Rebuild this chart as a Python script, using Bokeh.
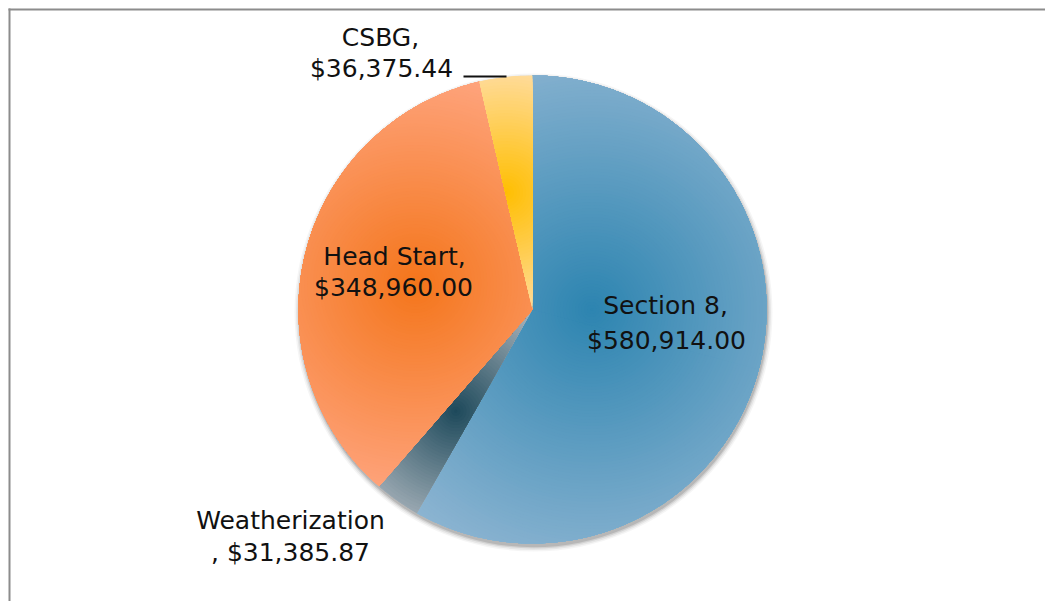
import numpy as np
from bokeh.plotting import figure
from bokeh.models import Range1d
from bokeh.embed import file_html
from bokeh.resources import INLINE
from bokeh.core.properties import value

# ---------------- data ----------------
categories = ["Section 8", "Weatherization", "Head Start", "CSBG"]
amounts = [580914.00, 31385.87, 348960.00, 36375.44]
# where the comma of "Name, $value" falls when wrapped
comma_on_second_line = [False, True, False, False]

# ---------------- style ----------------
dark_colors = [(44, 132, 176), (28, 72, 90), (244, 117, 26), (255, 190, 0)]
light_colors = [(148, 184, 212), (172, 182, 190), (255, 168, 134), (255, 219, 152)]

W, H = 1045, 601
cx, cy, R = 532, 292, 234
label_pos = [[(665, 296), (666, 261)],
             [(290, 81), (290, 49)],
             [(394, 345), (393, 314)],
             [(380, 564), (381, 533)]]
FONT = "DejaVu Sans"
FSIZE = "25px"

p = figure(width=W, height=H, x_range=Range1d(0, W), y_range=Range1d(0, H),
           x_axis_type=None, y_axis_type=None, output_backend="svg",
           toolbar_location=None, min_border=0)
p.outline_line_color = None
p.grid.visible = False
p.background_fill_color = "white"
p.border_fill_color = "white"

# chart-area border (left and top edges visible)
p.segment(x0=[9, 8], y0=[0, H - 9], x1=[9, W], y1=[H - 8, H - 9],
          line_color="#8c8c8c", line_width=2)

# soft shadow
for dr, a in [(5, 0.04), (3.5, 0.06), (2, 0.09), (0.8, 0.12)]:
    p.circle(x=[cx + 1], y=[cy - 3], radius=R + dr, fill_color="black",
             fill_alpha=a, line_color=None)

# ---------------- slices ----------------
total = float(sum(amounts))
cum = np.concatenate([[0.0], np.cumsum(amounts)]) / total * 2 * np.pi
start_angles = np.pi / 2 - cum[1:]
end_angles = np.pi / 2 - cum[:-1]


def hexc(c):
    return "#%02x%02x%02x" % tuple(int(round(v)) for v in c)


def sector_poly(a0, a1):
    n = max(3, int(np.ceil((a1 - a0) / np.deg2rad(1.0))) + 1)
    a = np.linspace(a0, a1, n)
    return [(cx, cy)] + [(cx + R * np.cos(t), cy + R * np.sin(t)) for t in a]


def clip(subject, clipper):
    """Sutherland-Hodgman: clip polygon 'subject' by convex CCW polygon 'clipper'."""
    out = subject
    n = len(clipper)
    for i in range(n):
        ax, ay = clipper[i - 1]
        bx, by = clipper[i]
        ex, ey = bx - ax, by - ay
        inp = out
        out = []
        if not inp:
            break
        sx, sy = inp[-1]
        s_in = ex * (sy - ay) - ey * (sx - ax) >= 0
        for (px_, py_) in inp:
            p_in = ex * (py_ - ay) - ey * (px_ - ax) >= 0
            if p_in != s_in:
                dx, dy = px_ - sx, py_ - sy
                den = ex * dy - ey * dx
                if den != 0:
                    u = (ey * (sx - ax) - ex * (sy - ay)) / den
                    out.append((sx + u * dx, sy + u * dy))
            if p_in:
                out.append((px_, py_))
            sx, sy, s_in = px_, py_, p_in
    return out


XS, YS, COLS = [], [], []
circ = np.linspace(0, 2 * np.pi, 97)[:-1]
for i in range(len(amounts)):
    a0, a1 = start_angles[i], end_angles[i]
    # split into convex pieces (<= 180 degrees)
    n_pieces = int(np.ceil((a1 - a0) / np.pi))
    edges = np.linspace(a0, a1, n_pieces + 1)
    pieces = [sector_poly(edges[k], edges[k + 1]) for k in range(n_pieces)]
    allpts = np.array(sector_poly(a0, a1))
    gx = (allpts[:, 0].min() + allpts[:, 0].max()) / 2
    gy = (allpts[:, 1].min() + allpts[:, 1].max()) / 2
    hd = np.hypot(np.ptp(allpts[:, 0]), np.ptp(allpts[:, 1])) / 2
    dk = np.array(dark_colors[i], float)
    lt = np.array(light_colors[i], float)
    levels = np.linspace(hd, 1.5, max(20, int(hd / 3)))
    for rho in levels:
        t = rho / hd
        col = hexc(dk + (lt - dk) * t)
        disk = [(gx + rho * np.cos(a), gy + rho * np.sin(a)) for a in circ]
        for piece in pieces:
            if rho >= hd - 1e-9:
                poly = piece
            else:
                poly = clip(piece, disk)
            if len(poly) >= 3:
                XS.append([q[0] for q in poly])
                YS.append([q[1] for q in poly])
                COLS.append(col)

p.patches(xs=XS, ys=YS, fill_color=COLS, line_color=None)

# labels
for i, name in enumerate(categories):
    money = "${:,.2f}".format(amounts[i])
    if comma_on_second_line[i]:
        l1, l2 = name, ", " + money
    else:
        l1, l2 = name + ",", money
    (x1, y1), (x2, y2) = label_pos[i]
    p.text(x=[x1, x2], y=[y1, y2], text=[l1, l2], text_align="center",
           text_baseline="middle", text_font=value(FONT),
           text_font_size=FSIZE, text_color="#111111")

# leader line for CSBG
p.segment(x0=[463], y0=[525], x1=[506], y1=[525], line_color="#111111", line_width=2)

open("out.html", "w").write(file_html(p, INLINE))
